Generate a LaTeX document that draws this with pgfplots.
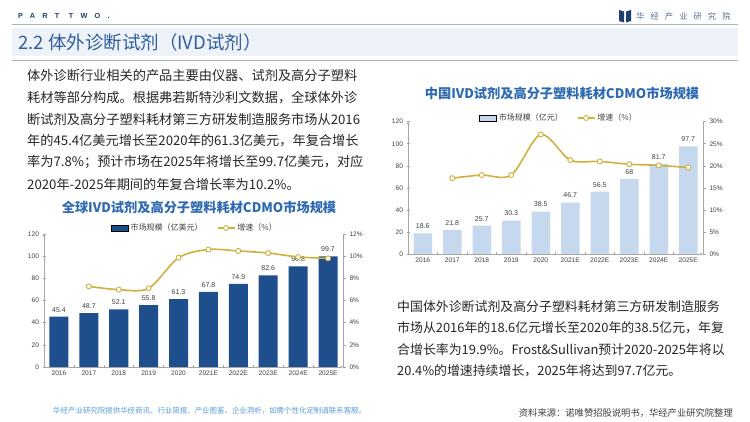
\documentclass[border=0pt]{standalone}
\usepackage{pgfplots}
\pgfplotsset{compat=1.18}
\usepackage{fontspec}
\setmainfont{Noto Sans CJK SC}
\newfontfamily\arial{Liberation Sans}
\newfontfamily\partfont[LetterSpace=100]{Liberation Sans}
\newfontfamily\logofont[LetterSpace=75]{Noto Sans CJK SC}
\definecolor{navy}{HTML}{1F3F6E}
\definecolor{titleblue}{HTML}{2E5D9C}
\definecolor{charttitle}{HTML}{2F6AB0}
\definecolor{bardark}{HTML}{1F4E8C}
\definecolor{barlight}{HTML}{C5D8EE}
\definecolor{gold}{HTML}{CFB13E}
\definecolor{axgray}{HTML}{A6A6A6}
\definecolor{ticktxt}{HTML}{404040}
\definecolor{para}{HTML}{262626}
\definecolor{footer}{HTML}{5B9BD5}
\definecolor{band}{HTML}{EEF3F9}
\definecolor{rule}{HTML}{A9B3C2}
\definecolor{logogray}{HTML}{5A6E8C}

\pgfplotsset{
  commonaxis/.style={
    scale only axis, xmin=-0.5, xmax=9.5, clip=false,
    /pgf/number format/assume math mode=true,
    axis line style={draw=axgray,-}, tick style={draw=axgray, line width=0.5pt},
    tick align=outside, major tick length=3pt,
    tick label style={font=\arial\fontsize{6.6}{7}\selectfont, text=ticktxt},
  },
  baraxis/.style={
    commonaxis, ybar, ymin=0, ymax=120, ytick={0,20,...,120},
    axis x line=bottom, axis y line=left,
    xtick={-0.5,0.5,...,9.5}, xticklabels={},
    extra x ticks={0,1,2,3,4,5,6,7,8,9},
    extra x tick labels={2016,2017,2018,2019,2020,2021E,2022E,2023E,2024E,2025E},
    extra x tick style={major tick length=0pt},
    nodes near coords,
    every node near coord/.append style={font=\arial\fontsize{7}{8}\selectfont, text=ticktxt, yshift=1pt},
  },
  lineaxis/.style={
    commonaxis, axis y line*=right, axis x line=none,
    legend style={draw=none, fill=none, legend columns=2,
      font=\fontsize{8}{9}\selectfont, text=ticktxt,
      /tikz/every even column/.append style={column sep=12pt}},
  },
  growth/.style={smooth, color=gold, line width=1.6pt, mark=*, mark size=2.5pt,
    mark options={fill=white, draw=gold, line width=0.9pt}},
}

\begin{document}
\begin{tikzpicture}[x=1pt,y=1pt]
\useasboundingbox (0,0) rectangle (750,422);
\fill[white] (0,0) rectangle (750,422);

% header
\node[anchor=west, inner sep=0, text=navy] at (18,406) {\partfont\bfseries\fontsize{7.3}{8}\selectfont PART TWO.};
\fill[navy] (619,401) -- (624,399.5) -- (624,410.5) -- (619,412) -- cycle;
\fill[navy] (631,401) -- (626,399.5) -- (626,410.5) -- (631,412) -- cycle;
\node[anchor=west, inner sep=0, text=logogray] at (636,406) {\logofont\fontsize{8.2}{9}\selectfont 华经产业研究院};
\draw[rule, line width=0.6pt] (12,398) -- (738,398);
\fill[band] (12,366) rectangle (738,394);
\node[anchor=west, inner sep=0, text=titleblue] at (18,380) {\fontsize{18.5}{20}\selectfont 2.2 体外诊断试剂（IVD试剂）};
\draw[rule, line width=0.6pt] (12,362) -- (738,362);

% left paragraph
\begin{scope}[every node/.style={anchor=west, inner sep=0, text=para, font=\fontsize{13.2}{15}\selectfont}]
\node at (27,346) {体外诊断行业相关的产品主要由仪器、试剂及高分子塑料};
\node at (27,324) {耗材等部分构成。根据弗若斯特沙利文数据，全球体外诊};
\node at (27,303) {断试剂及高分子塑料耗材第三方研发制造服务市场从2016};
\node at (27,281) {年的45.4亿美元增长至2020年的61.3亿美元，年复合增长};
\node at (27,260) {率为7.8\%；预计市场在2025年将增长至99.7亿美元，对应};
\node at (27,238) {2020年-2025年期间的年复合增长率为10.2\%。};
\end{scope}

% right paragraph
\begin{scope}[every node/.style={anchor=west, inner sep=0, text=para, font=\fontsize{12.9}{15}\selectfont}]
\node at (397,115) {中国体外诊断试剂及高分子塑料耗材第三方研发制造服务};
\node at (397,94) {市场从2016年的18.6亿元增长至2020年的38.5亿元，年复};
\node at (397,72) {合增长率为19.9\%。Frost\&Sullivan预计2020-2025年将以};
\node at (397,51) {20.4\%的增速持续增长，2025年将达到97.7亿元。};
\end{scope}

% footers
\node[anchor=west, inner sep=0, text=footer] at (53,11) {\fontsize{7.45}{8}\selectfont 华经产业研究院提供华经商讯、行业简报、产业图鉴、企业洞析，如需个性化定制请联系客服。};
\node[anchor=east, inner sep=0, text=ticktxt] at (733,9) {\fontsize{9.3}{10}\selectfont 资料来源：诺唯赞招股说明书，华经产业研究院整理};

% chart titles
\node[text=charttitle, inner sep=0] at (199,215) {\bfseries\fontsize{13.2}{14}\selectfont 全球IVD试剂及高分子塑料耗材CDMO市场规模};
\node[text=charttitle, inner sep=0] at (562,329) {\bfseries\fontsize{13.2}{14}\selectfont 中国IVD试剂及高分子塑料耗材CDMO市场规模};

% left chart
\begin{axis}[baraxis, at={(44pt,55pt)}, anchor=south west, width=299pt, height=133pt,
  bar width=19pt]
\addplot[fill=bardark, draw=none] coordinates {
 (0,45.4) (1,48.7) (2,52.1) (3,55.8) (4,61.3) (5,67.8) (6,74.9) (7,82.6) (8,90.8) (9,99.7)};
\end{axis}
\begin{axis}[lineaxis, at={(44pt,55pt)}, anchor=south west, width=299pt, height=133pt,
  ymin=0, ymax=12, ytick={0,2,...,12}, yticklabels={0\%,2\%,4\%,6\%,8\%,10\%,12\%},
  legend style={at={(0.505,1.045)}, anchor=center}]
\addlegendimage{area legend, fill=bardark, draw=none}
\addlegendentry{市场规模（亿美元）}
\addplot[growth] coordinates {
 (1,7.27) (2,6.98) (3,7.10) (4,9.86) (5,10.60) (6,10.47) (7,10.28) (8,9.93) (9,9.80)};
\addlegendentry{增速（\%）}
\end{axis}

% right chart
\begin{axis}[baraxis, at={(408pt,168pt)}, anchor=south west, width=295pt, height=132.3pt,
  bar width=18.5pt]
\addplot[fill=barlight, draw=none] coordinates {
 (0,18.6) (1,21.8) (2,25.7) (3,30.3) (4,38.5) (5,46.7) (6,56.5) (7,68) (8,81.7) (9,97.7)};
\end{axis}
\begin{axis}[lineaxis, at={(408pt,168pt)}, anchor=south west, width=295pt, height=132.3pt,
  ymin=0, ymax=30, ytick={0,5,...,30}, yticklabels={0\%,5\%,10\%,15\%,20\%,25\%,30\%},
  legend style={at={(0.512,1.028)}, anchor=center}]
\addlegendimage{area legend, fill=barlight, draw=none}
\addlegendentry{市场规模（亿元）}
\addplot[growth] coordinates {
 (1,17.2) (2,17.9) (3,17.9) (4,27.1) (5,21.3) (6,21.0) (7,20.35) (8,20.1) (9,19.6)};
\addlegendentry{增速（\%）}
\end{axis}
\end{tikzpicture}
\end{document}
